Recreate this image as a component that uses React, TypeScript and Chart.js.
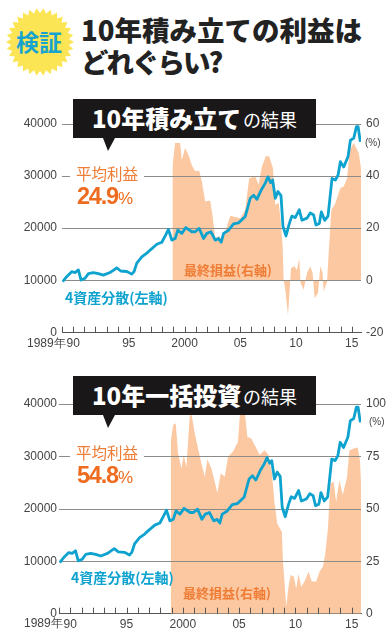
import React, { useEffect, useRef } from "react";
import { Chart, registerables } from "chart.js";

Chart.register(...registerables);

const lineYears = [
  1989.06, 1989.42, 1989.87, 1990.17, 1990.47, 1990.71, 1991.07, 1991.37, 1991.82, 1992.26, 1992.71, 1993.31,
  1993.91, 1994.27, 1994.81, 1995.26, 1995.47, 1995.71, 1996.16, 1996.61, 1996.91, 1997.51, 1997.96, 1998.31,
  1998.55, 1998.85, 1999.15, 1999.39, 1999.75, 2000.11, 2000.65, 2000.95, 2001.31, 2001.7, 2002.0, 2002.36,
  2002.75, 2003.05, 2003.29, 2003.5, 2003.95, 2004.39, 2004.84, 2005.44, 2005.89, 2006.19, 2006.49, 2006.88,
  2007.24, 2007.48, 2007.72, 2007.9, 2008.14, 2008.38, 2008.65, 2008.83, 2009.1, 2009.4, 2009.63, 2009.93,
  2010.29, 2010.53, 2010.98, 2011.28, 2011.58, 2011.79, 2012.09, 2012.27, 2012.57, 2012.87, 2013.23, 2013.53,
  2013.77, 2013.98, 2014.28, 2014.67, 2014.88, 2015.18, 2015.42, 2015.57, 2015.77,
];
const portfolioValues = [
  9750, 10700, 11660, 11500, 12000, 10070, 10400, 11300, 11500, 11300, 11000, 11500,
  12400, 11800, 11700, 11200, 11700, 13300, 14500, 15200, 15800, 16900, 17300, 18700,
  19750, 17700, 18000, 19600, 19000, 20100, 19300, 19300, 19950, 18000, 19000, 19300,
  17700, 18000, 17300, 19000, 19600, 20800, 21000, 22200, 25700, 26300, 25500, 27300,
  28600, 29800, 28700, 29200, 25700, 27000, 26200, 20300, 18500, 20900, 22300, 22000,
  23500, 21500, 21900, 22900, 22500, 20600, 20900, 23100, 21500, 22300, 29500, 29200,
  30100, 32700, 31700, 33700, 36800, 37200, 39400, 39400, 36500,
];

const accumYears = [
  1998.91, 1999.15, 1999.6, 1999.75, 2000.05, 2000.35, 2000.65, 2000.95, 2001.31, 2001.55, 2001.85, 2002.3,
  2002.51, 2002.75, 2003.11, 2003.35, 2003.65, 2004.1, 2004.54, 2004.99, 2005.44, 2005.8, 2006.34, 2006.64,
  2006.94, 2007.3, 2007.6, 2007.93, 2008.14, 2008.44, 2008.62, 2008.8, 2008.89, 2009.04, 2009.28, 2009.43,
  2009.55, 2009.85, 2010.08, 2010.29, 2010.41, 2010.68, 2010.98, 2011.28, 2011.49, 2011.67, 2011.97, 2012.18,
  2012.39, 2012.48, 2012.78, 2012.93, 2013.17, 2013.47, 2013.68, 2013.98, 2014.28, 2014.58, 2014.82, 2015.18,
  2015.63, 2015.83,
];
const accumProfit = [
  43.6, 52.5, 52.5, 46, 50.6, 48, 44, 41.7, 41.9, 37.8, 30.2, 30.6,
  24.5, 16.2, 17, 15.5, 18.7, 24.7, 24.2, 23.8, 27, 39.1, 39.7, 36.6,
  43.6, 47.6, 47.4, 42.9, 28.9, 29.6, 23.2, 13, 0, -3.6, -13.4, -3.6,
  4.7, 5.4, 4, 8.5, -1, -3.6, 2.8, 5.4, 2.8, -6.8, -4.8, 5.4,
  2.8, -4.2, -0.4, 10.4, 27, 28.9, 31.5, 35.3, 35.9, 39.1, 49.9, 52.5,
  48.7, 42.9,
];

const lumpYears = [
  1998.93, 1999.14, 1999.37, 1999.58, 1999.88, 2000.08, 2000.32, 2000.61, 2000.76, 2001.06, 2001.41, 2001.65,
  2001.95, 2002.18, 2002.54, 2002.83, 2003.07, 2003.37, 2003.72, 2004.02, 2004.46, 2004.9, 2005.14, 2005.49,
  2005.73, 2006.08, 2006.53, 2006.82, 2007.27, 2007.62, 2007.92, 2008.15, 2008.39, 2008.8, 2008.89, 2009.04,
  2009.19, 2009.39, 2009.57, 2009.87, 2010.07, 2010.28, 2010.52, 2010.81, 2011.17, 2011.46, 2011.85, 2012.14,
  2012.44, 2012.64, 2012.88, 2013.12, 2013.41, 2013.62, 2013.91, 2014.21, 2014.59, 2014.8, 2015.24, 2015.54,
  2015.75, 2015.83,
];
const lumpProfit = [
  82, 90, 90.8, 76.5, 69.3, 75.7, 70, 94, 95.5, 86, 77.3, 71.7,
  65.3, 73.6, 69.3, 63, 57.4, 67, 65.3, 74.9, 77.3, 82, 100, 97,
  84.4, 83.6, 78.9, 75.7, 78, 75.7, 67, 52.6, 43, 39, 25.6, 14.5,
  3.3, 12.9, 18.4, 17.6, 12, 18.9, 12.9, 15.3, 20, 15.3, 15.3, 20,
  22.4, 28, 39.9, 62, 63, 53.4, 63.8, 56.6, 65.3, 78, 78.9, 79.3,
  72.5, 62.2,
];

const xTickLabels: Record<number, string> = { 1990: "90", 1995: "95", 2000: "2000", 2005: "05", 2010: "10", 2015: "15" };
const firstYear = 1989;
const lastYear = 2015.83;

const tickFont = { family: "'Liberation Sans', Arial, sans-serif", size: 12 };
const JP = "'Noto Sans CJK JP', 'Noto Sans', sans-serif";
const orange = "#ef7d36";
const blue = "#0ea2cf";
const gridColor = "#8b8b88";

const gridOverArea = {
  id: "gridOverArea",
  afterDatasetDraw(chart: any, args: any) {
    if (args.index !== 1) return;
    const { ctx, chartArea, scales } = chart;
    ctx.save();
    ctx.strokeStyle = gridColor;
    ctx.lineWidth = 1;
    for (const t of scales.y.ticks) {
      if (t.value === 0) continue;
      const y = Math.round(scales.y.getPixelForValue(t.value)) + 0.5;
      ctx.beginPath();
      ctx.moveTo(chartArea.left, y);
      ctx.lineTo(chartArea.right, y);
      ctx.stroke();
    }
    ctx.restore();
  },
};

const upwardTicks = {
  id: "upwardTicks",
  afterDraw(chart: any) {
    const { ctx, chartArea, scales } = chart;
    ctx.save();
    ctx.strokeStyle = "#555";
    ctx.lineWidth = 1;
    for (const t of scales.x.ticks) {
      const x = Math.round(scales.x.getPixelForValue(t.value)) + 0.5;
      ctx.beginPath();
      ctx.moveTo(x, chartArea.bottom);
      ctx.lineTo(x, chartArea.bottom - 6);
      ctx.stroke();
    }
    ctx.restore();
  },
};

type PanelProps = {
  top: number;
  height: number;
  padTop: number;
  xHeight: number;
  leftWidth: number;
  leftPad: number;
  areaYears: number[];
  areaValues: number[];
  rMin: number;
  rMax: number;
  rStep: number;
};

function Panel(p: PanelProps) {
  const ref = useRef<HTMLCanvasElement>(null);
  useEffect(() => {
    const chart = new Chart(ref.current as HTMLCanvasElement, {
      type: "line",
      plugins: [gridOverArea, upwardTicks],
      data: {
        datasets: [
          {
            label: "4資産分散(左軸)",
            data: lineYears.map((x, i) => ({ x, y: portfolioValues[i] })),
            yAxisID: "y",
            borderColor: blue,
            borderWidth: 2.8,
            pointRadius: 0,
            tension: 0,
            borderJoinStyle: "round",
            fill: false,
          },
          {
            label: "最終損益(右軸)",
            data: p.areaYears.map((x, i) => ({ x, y: p.areaValues[i] })),
            yAxisID: "y1",
            borderWidth: 0,
            borderColor: "rgba(0,0,0,0)",
            backgroundColor: "#fcc8a2",
            pointRadius: 0,
            tension: 0,
            fill: { value: 0 },
          },
        ],
      },
      options: {
        animation: false,
        responsive: false,
        layout: { autoPadding: false, padding: { top: p.padTop, left: 0, right: 0, bottom: 0 } },
        plugins: { legend: { display: false }, tooltip: { enabled: false }, title: { display: false } },
        scales: {
          x: {
            type: "linear",
            min: firstYear,
            max: lastYear,
            afterFit(s: any) {
              s.height = p.xHeight;
            },
            border: { color: "#555", width: 1 },
            grid: { drawOnChartArea: false, drawTicks: false },
            ticks: {
              stepSize: 1,
              includeBounds: false,
              autoSkip: false,
              maxRotation: 0,
              padding: 4,
              color: "#444",
              font: tickFont,
              callback: (v: any) => xTickLabels[v] ?? "",
            },
          },
          y: {
            position: "left",
            min: 0,
            max: 40000,
            afterFit(s: any) {
              s.width = p.leftWidth;
            },
            border: { display: false },
            grid: { drawOnChartArea: false, drawTicks: false },
            ticks: { stepSize: 10000, padding: p.leftPad, color: "#444", font: tickFont, callback: (v: any) => String(v) },
          },
          y1: {
            position: "right",
            min: p.rMin,
            max: p.rMax,
            afterFit(s: any) {
              s.width = 29;
            },
            border: { display: false },
            grid: { drawOnChartArea: false, drawTicks: false },
            ticks: { stepSize: p.rStep, padding: 5, color: "#444", font: tickFont, callback: (v: any) => String(v) },
          },
        },
      },
    } as any);
    return () => chart.destroy();
  }, []);
  return (
    <canvas
      ref={ref}
      width={390}
      height={p.height}
      style={{ position: "absolute", left: 0, top: p.top, width: 390, height: p.height, display: "block" }}
    />
  );
}

function T(props: { x: number; y: number; children: React.ReactNode; style?: React.CSSProperties }) {
  // y is the vertical centre of the text line
  return (
    <div
      style={{
        position: "absolute",
        left: props.x,
        top: props.y,
        transform: "translateY(-50%)",
        whiteSpace: "nowrap",
        lineHeight: 1,
        fontFamily: JP,
        ...props.style,
      }}
    >
      {props.children}
    </div>
  );
}

function Burst() {
  const cx = 40;
  const cy = 42;
  const n = 30;
  const pts: string[] = [];
  for (let i = 0; i < n * 2; i++) {
    const r = i % 2 ? 29 : 34;
    const a = (i * Math.PI) / n;
    pts.push(`${cx + r * Math.cos(a)},${cy + r * Math.sin(a)}`);
  }
  return (
    <svg width={80} height={80} style={{ position: "absolute", left: 0, top: 0 }}>
      <polygon points={pts.join(" ")} fill="#fbe555" />
    </svg>
  );
}

function Banner(props: { top: number; main: string }) {
  const { top, main } = props;
  return (
    <>
      <div style={{ position: "absolute", left: 73, top, width: 243, height: 39, background: "#1a1718" }} />
      <svg width={14} height={14} style={{ position: "absolute", left: 102, top: top + 39 }}>
        <polygon points="1,0 13,0 6,13" fill="#1a1718" />
      </svg>
      <T x={92} y={top + 19} style={{ color: "#fff", fontSize: 24, fontWeight: 900 }}>
        {main}
      </T>
      <T x={243} y={top + 20} style={{ color: "#fff", fontSize: 18 }}>
        の結果
      </T>
    </>
  );
}

function Average(props: { lineY: number; value: string }) {
  const { lineY, value } = props;
  return (
    <>
      <div style={{ position: "absolute", left: 70, top: lineY - 8, width: 74, height: 16, background: "#fff" }} />
      <T x={76} y={lineY - 1} style={{ color: orange, fontSize: 15.5 }}>
        平均利益
      </T>
      <T x={77} y={lineY + 22} style={{ color: "#ee6c20", fontSize: 23.5, fontWeight: 700, fontFamily: tickFont.family, letterSpacing: -1.2 }}>
        {value}
        <span style={{ fontSize: 17, fontWeight: 400, letterSpacing: 0 }}>%</span>
      </T>
    </>
  );
}

export default function App() {
  const smallText = { fontFamily: tickFont.family, fontSize: 12, color: "#444" };
  return (
    <div style={{ position: "absolute", left: 0, top: 0, width: 390, height: 635, background: "#fff", overflow: "hidden" }}>
      <Panel top={100} height={255} padTop={23.5} xHeight={22.3} leftWidth={62} leftPad={5} areaYears={accumYears} areaValues={accumProfit} rMin={-20} rMax={60} rStep={20} />
      <Panel top={380} height={255} padTop={24} xHeight={21.3} leftWidth={59} leftPad={2} areaYears={lumpYears} areaValues={lumpProfit} rMin={0} rMax={100} rStep={25} />

      <Burst />
      <T x={16} y={41} style={{ color: "#16a3d0", fontSize: 23, fontWeight: 700 }}>
        検証
      </T>
      <T x={81} y={30} style={{ color: "#222", fontSize: 27.5, fontWeight: 900 }}>
        10年積み立ての利益は
      </T>
      <T x={81} y={62} style={{ color: "#222", fontSize: 27.5, fontWeight: 900, letterSpacing: -2 }}>
        どれぐらい?
      </T>

      <Banner top={99} main="10年積み立て" />
      <Average lineY={175} value="24.9" />
      <T x={65} y={297} style={{ color: blue, fontSize: 14, fontWeight: 700 }}>
        4資産分散(左軸)
      </T>
      <T x={184} y={269} style={{ color: orange, fontSize: 13, fontWeight: 700 }}>
        最終損益(右軸)
      </T>
      <T x={365} y={143} style={{ ...smallText, fontSize: 10 }}>
        (%)
      </T>
      <T x={27} y={343} style={smallText}>
        1989年
      </T>

      <Banner top={376} main="10年一括投資" />
      <Average lineY={454} value="54.8" />
      <T x={71} y={577} style={{ color: blue, fontSize: 14, fontWeight: 700 }}>
        4資産分散(左軸)
      </T>
      <T x={183} y={592} style={{ color: orange, fontSize: 13, fontWeight: 700 }}>
        最終損益(右軸)
      </T>
      <T x={369} y={422} style={{ ...smallText, fontSize: 10 }}>
        (%)
      </T>
      <T x={24} y={623} style={smallText}>
        1989年
      </T>
    </div>
  );
}
